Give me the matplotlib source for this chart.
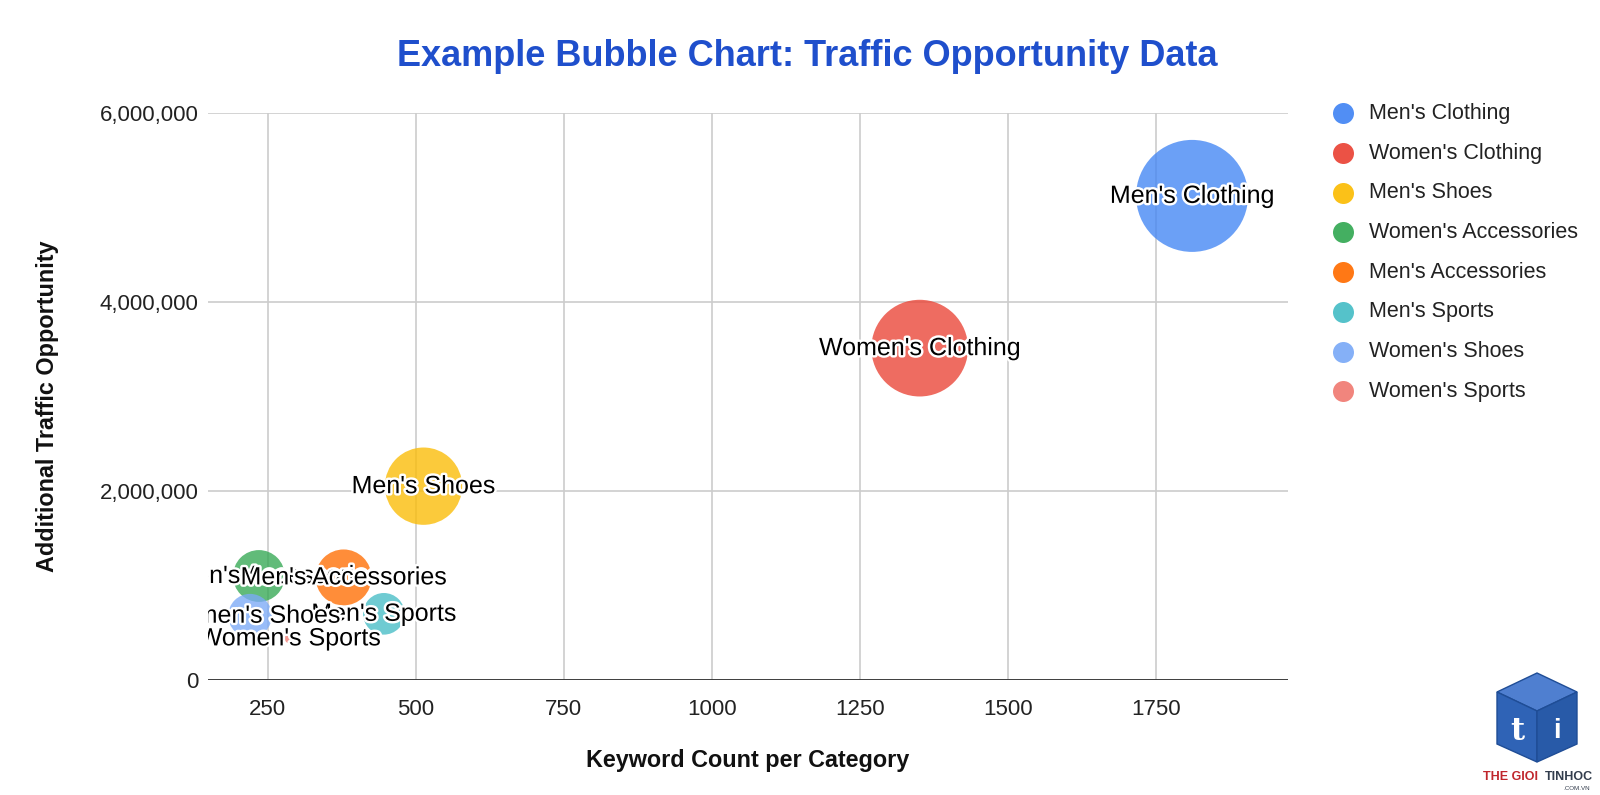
import matplotlib; matplotlib.use("Agg")
import matplotlib.pyplot as plt
import matplotlib.patheffects as pe
from matplotlib.patches import Polygon
from matplotlib.ticker import FuncFormatter

# ---- data ----
categories = ["Men's Clothing", "Women's Clothing", "Men's Shoes", "Women's Accessories",
              "Men's Accessories", "Men's Sports", "Women's Shoes", "Women's Sports"]
keyword_count = [1811, 1351, 513, 235, 378, 446, 220, 287]
traffic = [5120000, 3510000, 2050000, 1100000, 1085000, 700000, 680000, 440000]
bubble_size = [100, 85, 66, 41, 45, 31, 33, 0]
x_ticks = [250, 500, 750, 1000, 1250, 1500, 1750]
y_ticks = [0, 2000000, 4000000, 6000000]

COL = ["#4285F4", "#EA4335", "#FBBC04", "#34A853", "#FF6D01", "#46BDC6", "#7BAAF7", "#F07B72"]
FONT = ["Liberation Sans", "DejaVu Sans"]
plt.rcParams["font.family"] = FONT
W, H, DPI = 1600, 795, 100
fig = plt.figure(figsize=(W / DPI, H / DPI), dpi=DPI)
L, R, T, B = 208, 1288, 112.7, 680
ax = fig.add_axes([L / W, 1 - B / H, (R - L) / W, (B - T) / H])

# google-style radius scaling: 5px .. 56px
r_min, r_max = 5, 56
smin, smax = min(bubble_size), max(bubble_size)
rad = [r_min + (s - smin) / (smax - smin) * (r_max - r_min) for s in bubble_size]
area = [(2 * r * 72 / DPI) ** 2 for r in rad]
ax.scatter(keyword_count, traffic, s=area, c=COL, alpha=0.78, linewidths=0, zorder=3)
for name, x, y in zip(categories, keyword_count, traffic):
    ax.text(x, y, name, ha="center", va="center", fontsize=18, color="black", zorder=4, clip_on=True,
            path_effects=[pe.withStroke(linewidth=3.5, foreground="white")])

ax.set_xlim(149, 1973)
ax.set_ylim(0, 6000000)
ax.set_xticks(x_ticks)
ax.set_yticks(y_ticks)
ax.yaxis.set_major_formatter(FuncFormatter(lambda v, p: f"{int(v):,}"))
ax.tick_params(length=0, labelsize=16, colors="#222222")
ax.tick_params(axis="x", pad=13.5)
ax.tick_params(axis="y", pad=7)
ax.grid(True, color="#cccccc", lw=1.2)
ax.set_axisbelow(True)
for s in ax.spines.values(): s.set_visible(False)
ax.axhline(0, color="#333333", lw=1.3, zorder=2)

ax.set_xlabel("Keyword Count per Category", fontsize=16.8, fontweight="bold", color="#111111")
ax.xaxis.set_label_coords(0.5, -(760 - B) / (B - T))
ax.xaxis.label.set_va("center")
ax.set_ylabel("Additional Traffic Opportunity", fontsize=16.8, fontweight="bold", color="#111111")
ax.yaxis.set_label_coords((48 - L) / (R - L), (B - 406) / (B - T))
ax.yaxis.label.set_va("center")

fig.text(807 / W, 1 - 57 / H, "Example Bubble Chart: Traffic Opportunity Data", ha="center", va="center",
         fontsize=26, fontweight="bold", color="#1f4fcc")

# overlay in pixel coords for legend + watermark
ov = fig.add_axes([0, 0, 1, 1], zorder=5)
ov.set_xlim(0, W); ov.set_ylim(H, 0); ov.axis("off")
for i, (name, c) in enumerate(zip(categories, COL)):
    yy = 113.3 + i * 39.7
    ov.scatter([1343], [yy], s=(21 * 72 / DPI) ** 2, color=c, alpha=0.92, linewidths=0)
    ov.text(1369, yy, name, ha="left", va="center", fontsize=15.5, color="#222222")

# watermark logo (simplified cube)
top = [(1537, 673), (1577, 692), (1537, 711), (1497, 692)]
left = [(1497, 692), (1537, 711), (1537, 762), (1497, 744)]
right = [(1537, 711), (1577, 692), (1577, 744), (1537, 762)]
for pts, fc in [(top, "#4f7fd0"), (left, "#2f63b6"), (right, "#285aa8")]:
    ov.add_patch(Polygon(pts, closed=True, fc=fc, ec="#1f4d96", lw=1))
ov.text(1517, 731, "t", ha="center", va="center", fontsize=22, fontweight="bold", color="white",
        family=["DejaVu Serif"])
ov.text(1557, 731, "i", ha="center", va="center", fontsize=20, fontweight="bold", color="white")
ov.text(1483, 777, "THE GIOI", ha="left", va="center", fontsize=9, fontweight="bold", color="#c0272d")
ov.text(1593, 777, "TINHOC", ha="right", va="center", fontsize=9, fontweight="bold", color="#333d4d")
ov.text(1590, 789, ".COM.VN", ha="right", va="center", fontsize=4.5, color="#333d4d")

fig.savefig("out.png", dpi=DPI)
